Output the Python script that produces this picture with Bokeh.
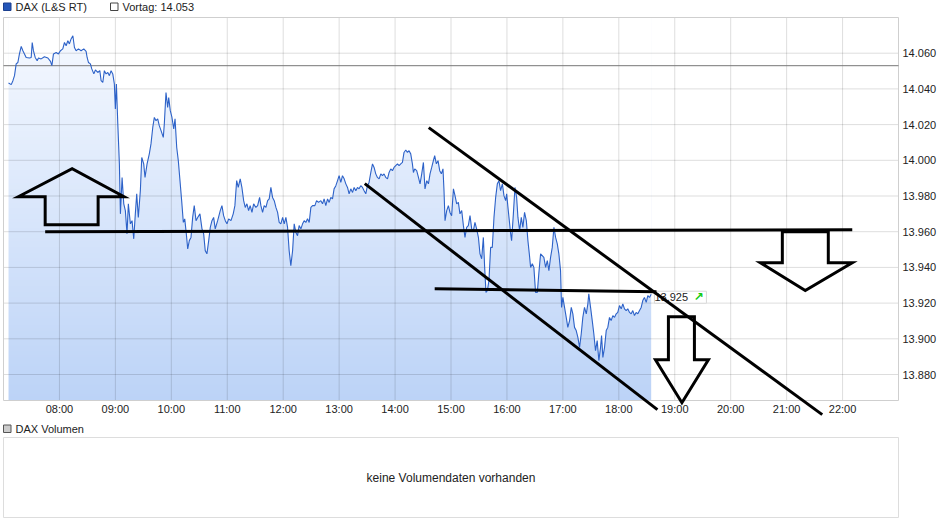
import numpy as np
from bokeh.plotting import figure
from bokeh.models import Range1d, Label, Arrow, PolyAnnotation, FixedTicker
from bokeh.core.properties import value
from bokeh.embed import file_html
from bokeh.resources import INLINE

# ---------------- data ----------------
open_minute = 420  # 07:00, minutes after midnight
minutes_after_open = [
    5.4, 8.3, 10.1, 11.8, 13.6, 15.4, 17.1, 19.0, 20.8, 22.5,
    24.3, 27.9, 29.7, 30.8, 32.1, 34.0, 36.1, 37.5, 40.4, 43.9,
    47.6, 50.4, 51.9, 53.6, 56.5, 58.9, 61.1, 63.6, 65.4, 67.2,
    69.0, 70.7, 72.5, 74.4, 76.1, 77.9, 80.4, 83.2, 86.1, 88.6,
    89.7, 91.1, 93.2, 94.7, 96.9, 98.6, 101.1, 103.3, 104.7, 106.5,
    108.2, 110.0, 111.9, 113.6, 115.4, 117.2, 118.9, 120.0, 121.1, 122.6,
    124.3, 125.4, 127.2, 129.0, 130.7, 132.5, 133.9, 136.1, 137.9, 139.7,
    141.4, 142.9, 144.6, 146.8, 148.3, 150.4, 151.8, 154.0, 156.4, 158.2,
    160.1, 161.8, 163.6, 165.4, 167.1, 169.0, 171.4, 172.5, 174.3, 176.1,
    177.2, 178.9, 180.7, 182.6, 184.0, 185.8, 187.5, 189.3, 191.1, 192.9,
    194.4, 196.1, 197.6, 199.3, 201.1, 202.9, 204.6, 206.5, 208.3, 210.7,
    212.9, 214.7, 216.4, 218.2, 220.1, 221.8, 223.6, 225.4, 227.1, 229.7,
    232.5, 234.3, 236.1, 237.9, 239.7, 241.5, 244.0, 246.4, 248.2, 250.1,
    251.8, 253.9, 255.7, 257.6, 259.3, 261.1, 262.9, 264.6, 266.5, 268.3,
    270.7, 272.6, 274.7, 276.1, 277.9, 279.6, 281.5, 283.3, 285.0, 286.8,
    288.6, 290.4, 292.2, 294.0, 295.7, 297.5, 299.4, 301.1, 302.9, 304.7,
    306.4, 308.2, 310.1, 311.8, 313.6, 315.4, 317.1, 319.0, 320.8, 322.5,
    324.3, 326.1, 327.9, 329.7, 331.5, 334.0, 335.8, 337.9, 340.4, 342.2,
    343.9, 345.7, 347.6, 349.3, 351.1, 352.9, 354.6, 356.5, 358.3, 360.0,
    361.8, 363.6, 365.4, 367.2, 369.0, 370.7, 372.5, 374.4, 376.1, 377.9,
    379.7, 381.4, 383.2, 385.1, 386.8, 388.6, 390.4, 392.1, 394.0, 395.8,
    397.5, 399.3, 401.1, 402.9, 404.7, 406.5, 408.2, 410.0, 411.9, 413.6,
    415.4, 417.2, 418.9, 420.7, 422.6, 424.3,
    426.1, 427.9, 429.6, 431.5, 433.3, 435.0, 436.8, 438.6, 439.7, 441.1,
    443.2, 445.1, 446.8, 448.6, 450.4, 452.1, 454.0, 455.8, 457.5, 459.3,
    461.1, 462.5, 464.3, 466.1, 467.9, 469.7, 471.4, 472.5, 473.6, 475.4,
    477.2, 478.9, 480.7, 482.6, 484.3, 486.1, 487.9, 489.6, 491.5, 493.3,
    495.0, 496.8, 498.6, 500.4, 502.2, 504.0, 505.7, 507.5, 509.4, 511.1,
    512.9, 514.7, 516.1, 517.5, 519.0, 520.7, 522.5, 524.3, 526.1, 527.9,
    529.7, 531.4, 533.2, 535.1, 536.8, 538.6, 539.7, 541.1, 542.9, 544.0,
    545.0, 546.9, 548.6, 550.4, 551.8, 553.6, 555.4, 557.1, 558.9, 560.8,
    562.5, 564.0, 565.4, 567.2, 568.9, 570.7, 572.6, 574.3,
    576.1, 579.6, 581.5, 583.3, 585.0, 586.8, 588.6, 590.4, 592.2, 594.0,
    595.7, 597.5, 598.6, 600.0, 601.8, 603.6, 605.3, 607.2, 609.0, 610.7,
    612.5, 614.3, 616.1, 617.9, 619.7, 621.4, 623.2, 625.1, 626.8, 627.8,
    629.7, 631.5, 633.2, 635.0, 636.8, 638.6, 640.4, 641.5, 642.9, 644.7,
    646.5, 648.2, 650.0, 651.8, 653.6, 655.4, 657.2, 658.9, 660.7, 662.6,
    664.3, 666.1, 667.9, 669.6, 671.5, 673.3, 675.0, 676.8, 678.6, 680.4,
    682.2, 684.0, 685.7, 687.5, 689.4, 691.1, 692.9, 694.7,
]
prices = [
    14043.3, 14042.4, 14044.6, 14047.4, 14054.0, 14054.8, 14059.6, 14063.8, 14061.4, 14059.6,
    14057.6, 14057.3, 14057.6, 14066.0, 14061.4, 14057.6, 14055.8, 14057.3, 14056.8, 14058.0,
    14057.3, 14055.4, 14053.0, 14059.6, 14060.4, 14059.6, 14061.4, 14062.4, 14066.0, 14064.2,
    14067.0, 14065.2, 14068.0, 14069.8, 14063.2, 14061.4, 14062.4, 14061.4, 14062.4, 14061.0,
    14057.6, 14054.8, 14054.0, 14051.2, 14048.4, 14050.6, 14049.2, 14050.2, 14044.6, 14043.6,
    14050.2, 14048.4, 14049.2, 14047.4, 14050.2, 14048.4, 14042.8, 14028.8, 14042.8, 14020.4,
    13998.0, 13970.0, 13990.4, 13975.6, 13971.8, 13958.8, 13975.6, 13964.4, 13966.2, 13956.0,
    13970.0, 13981.2, 13968.0, 13983.0, 14001.6, 13998.0, 13990.4, 13998.0, 14003.6, 14009.2,
    14018.4, 14024.0, 14022.2, 14023.2, 14019.4, 14016.6, 14012.8, 14020.4, 14038.0, 14029.6,
    14035.2, 14027.8, 14024.0, 14017.6, 14023.2, 14007.2, 13999.8, 13988.6, 13977.4, 13965.2,
    13967.2, 13958.8, 13950.4, 13955.0, 13956.8, 13968.0, 13974.6, 13966.2, 13968.0, 13970.0,
    13961.6, 13958.8, 13949.4, 13947.6, 13955.0, 13962.4, 13966.2, 13968.0, 13961.6, 13966.2,
    13971.8, 13974.6, 13969.0, 13966.2, 13964.4, 13967.2, 13966.2, 13970.0, 13974.6, 13988.6,
    13984.8, 13989.6, 13984.8, 13977.4, 13973.6, 13975.6, 13971.8, 13974.6, 13970.8, 13975.6,
    13973.6, 13974.6, 13979.2, 13974.6, 13970.8, 13974.6, 13973.6, 13977.4, 13978.4, 13984.8,
    13979.2, 13977.4, 13973.6, 13970.8, 13965.2, 13964.4, 13968.0, 13964.4, 13968.0, 13962.4,
    13949.4, 13941.0, 13949.4, 13964.4, 13959.6, 13957.8, 13963.4, 13961.6, 13964.4, 13966.2,
    13965.2, 13967.2, 13965.2, 13973.6, 13974.6, 13974.6, 13977.4, 13976.4, 13977.4, 13975.6,
    13978.4, 13974.6, 13978.4, 13976.4, 13979.2, 13978.4, 13984.0, 13985.8, 13988.6, 13991.4,
    13987.6, 13991.4, 13989.6, 13986.8, 13984.8, 13981.2, 13984.0, 13982.0, 13984.8, 13983.0,
    13984.8, 13984.0, 13985.8, 13984.8, 13983.0, 13981.2, 13985.8, 13987.6, 13993.2, 13998.0,
    13996.0, 13992.4, 13990.4, 13989.6, 13992.4, 13991.4, 13992.4, 13990.4, 13989.6, 13993.2,
    13995.2, 13994.2, 13996.0, 13997.0, 13998.0, 13997.0,
    13998.0, 13998.8, 14004.4, 14005.8, 14004.4, 14005.4, 14003.6, 13998.0, 13993.2, 13995.2,
    13994.2, 13990.4, 13986.8, 13992.4, 13998.8, 13984.0, 13988.6, 13986.8, 13992.4, 13996.0,
    13999.8, 14002.6, 13998.0, 13999.8, 13994.2, 13992.4, 13995.2, 13983.0, 13966.2, 13971.8,
    13974.6, 13970.8, 13969.0, 13984.0, 13980.2, 13975.6, 13976.4, 13970.0, 13971.8, 13963.4,
    13956.8, 13962.4, 13963.4, 13969.0, 13961.6, 13960.6, 13965.2, 13961.6, 13956.8, 13947.6,
    13944.8, 13956.8, 13940.0, 13926.0, 13927.0, 13932.6, 13951.2, 13951.2, 13968.0, 13979.2,
    13986.8, 13988.6, 13983.0, 13986.8, 13980.2, 13977.4, 13981.2, 13973.6, 13964.4, 13958.8,
    13955.0, 13970.0, 13984.8, 13979.2, 13968.0, 13960.6, 13968.0, 13962.4, 13970.8, 13966.2,
    13955.0, 13947.6, 13940.0, 13942.0, 13940.0, 13926.0, 13926.0, 13937.2,
    13947.6, 13945.6, 13940.0, 13943.8, 13938.2, 13945.6, 13951.2, 13962.4, 13956.8, 13953.2,
    13947.6, 13938.2, 13917.6, 13923.2, 13917.6, 13912.0, 13906.4, 13910.2, 13917.6, 13914.0,
    13906.4, 13904.6, 13900.8, 13895.2, 13902.8, 13912.0, 13917.6, 13914.0, 13919.6, 13925.2,
    13917.6, 13910.2, 13902.8, 13893.4, 13899.0, 13887.8, 13895.2, 13901.8, 13889.6, 13895.2,
    13904.6, 13906.4, 13912.0, 13910.2, 13913.0, 13912.0, 13914.0, 13914.8, 13918.6, 13916.8,
    13919.6, 13916.8, 13915.8, 13916.8, 13914.8, 13914.0, 13915.8, 13913.0, 13914.8, 13914.0,
    13915.8, 13917.6, 13921.4, 13923.2, 13920.4, 13924.2, 13923.2, 13925.0,
]
vortag = 14053
last_price_label = "13.925"

x_ticks = [480, 540, 600, 660, 720, 780, 840, 900, 960, 1020, 1080, 1140, 1200, 1260, 1320]
x_tick_labels = ["08:00", "09:00", "10:00", "11:00", "12:00", "13:00", "14:00", "15:00",
                 "16:00", "17:00", "18:00", "19:00", "20:00", "21:00", "22:00"]
y_ticks = [13880, 13900, 13920, 13940, 13960, 13980, 14000, 14020, 14040, 14060]
y_tick_labels = ["13.880", "13.900", "13.920", "13.940", "13.960", "13.980",
                 "14.000", "14.020", "14.040", "14.060"]

# hand-drawn chart annotations (time in minutes after midnight, price in points)
up_arrow_x = [435.8, 493.6, 549.3, 521.5, 521.5, 464.7, 464.7]
up_arrow_y = [13979.6, 13995.3, 13979.6, 13979.6, 13963.9, 13963.9, 13979.6]
down_arrow_right_x = [1255.4, 1304.7, 1304.7, 1330.4, 1280.0, 1231.8, 1255.4]
down_arrow_right_y = [13960.0, 13960.0, 13942.6, 13942.6, 13927.0, 13942.6, 13942.6]
down_arrow_mid_x = [1133.2, 1161.1, 1161.1, 1176.1, 1147.7, 1119.3, 1133.2]
down_arrow_mid_y = [13912.4, 13912.4, 13888.3, 13888.3, 13864.2, 13888.3, 13888.3]
drawn_lines = [  # (x_start, y_start, x_end, y_end)
    (464.7, 13960.0, 1330.4, 13961.1),   # support line
    (807.5, 13986.9, 1121.4, 13860.3),   # lower channel line
    (876.1, 14018.3, 1298.2, 13857.5),   # upper channel line
    (882.5, 13928.1, 1120.4, 13926.4),   # short horizontal line
]

# ---------------- layout (page pixels -> data units) ----------------
X_START, X_END = 420, 1380            # chart time range 07:00 .. 23:00
Y_TOP = 14080                         # chart top
PX_L, PX_R = 3, 898                   # chart left / right in page pixels
PY_TOP, PY_BOT = 17, 400              # chart top / bottom in page pixels
PX_PER_MIN = (PX_R - PX_L) / (X_END - X_START)
PX_PER_PT = 1.785
FRAME_W, FRAME_H = 899, 520
FONT = "Liberation Sans"


def gx(px):
    return X_START + (px - PX_L) / PX_PER_MIN


def gy(py):
    return Y_TOP - (py - PY_TOP) / PX_PER_PT


Y_BOT = gy(PY_BOT)

t = np.array(minutes_after_open[:len(prices)]) + open_minute
y = np.array(prices[:len(t)])

p = figure(frame_width=FRAME_W, frame_height=FRAME_H,
           x_range=Range1d(gx(0), gx(FRAME_W)), y_range=Range1d(gy(FRAME_H), gy(0)),
           toolbar_location=None, output_backend="svg", y_axis_location="right",
           x_axis_location=None,
           min_border_left=0, min_border_top=0, min_border_bottom=0, min_border_right=0,
           background_fill_color="white", border_fill_color="white")
p.outline_line_color = None

# gradient fill below the price line
rows = 256
frac = np.linspace(0, 1, rows)
c_bottom = np.array([188, 211, 247])
c_top = np.array([247, 250, 255])
cols = c_bottom + (c_top - c_bottom) * frac[:, None]
img = np.empty((rows, 1), dtype=np.uint32)
view = img.view(dtype=np.uint8).reshape((rows, 1, 4))
view[:, 0, 0:3] = np.round(cols).astype(np.uint8)
view[:, 0, 3] = 255
r_img = p.image_rgba(image=[img], x=t[0], y=Y_BOT, dw=t[-1] - t[0], dh=Y_TOP - Y_BOT)
r_img.level = "image"
r_mask = p.varea(x=t, y1=y, y2=Y_TOP, fill_color="white")
r_mask.level = "image"

# grid lines and chart frame
grid_col, grid_alpha = "black", 0.135
r_vg = p.segment(x0=x_ticks, x1=x_ticks, y0=Y_BOT, y1=Y_TOP, line_color=grid_col,
                 line_alpha=grid_alpha, line_width=1)
r_vg.level = "underlay"
r_hg = p.segment(x0=X_START, x1=X_END, y0=y_ticks, y1=y_ticks, line_color=grid_col,
                 line_alpha=grid_alpha, line_width=1)
r_hg.level = "underlay"
p.grid.visible = False
r_box = p.quad(left=X_START, right=X_END, bottom=Y_BOT, top=Y_TOP, fill_color=None,
               line_color="#cfcfcf", line_width=1)
r_box.level = "underlay"

p.segment(x0=X_START, x1=X_END, y0=vortag, y1=vortag, line_color="#777777", line_width=1)
p.line(t, y, line_color="#2d62c8", line_width=1.1)

# right axis (real axis) and time labels under the chart
p.yaxis.ticker = FixedTicker(ticks=y_ticks)
p.yaxis.major_label_overrides = {k: v for k, v in zip(y_ticks, y_tick_labels)}
ax = p.yaxis[0]
ax.major_tick_in = 0
ax.major_tick_out = 0
ax.minor_tick_in = 0
ax.minor_tick_out = 0
ax.major_tick_line_color = None
ax.minor_tick_line_color = None
ax.axis_line_color = None
ax.major_label_text_font = FONT
ax.major_label_text_font_size = "11px"
ax.major_label_text_color = "#222222"
ax.major_label_standoff = 3

p.text(x=x_ticks, y=[gy(408.5)] * len(x_ticks), text=x_tick_labels,
       text_font=value(FONT), text_font_size=value("11px"), text_color="#222222",
       text_align="center", text_baseline="middle")

# last price tag
tag_y = y[-1] - 1.7
p.add_layout(Label(x=t[-1] + 3.5, y=tag_y, text=" " + last_price_label + "     ",
                   text_font=FONT, text_font_size="11px", text_color="#222222",
                   text_baseline="middle", background_fill_color="white",
                   border_line_color="#d8d8d8", border_line_width=1))
p.add_layout(Label(x=t[-1] + 3.5, y=tag_y, x_offset=39, text="\u2197",
                   text_font="DejaVu Sans", text_font_size="12px", text_font_style="bold",
                   text_color="#11cc11", text_baseline="middle"))

# drawn annotations
for xs, ys in ((up_arrow_x, up_arrow_y), (down_arrow_right_x, down_arrow_right_y),
               (down_arrow_mid_x, down_arrow_mid_y)):
    p.add_layout(PolyAnnotation(xs=xs, ys=ys, fill_alpha=0, line_color="black",
                                line_alpha=1.0, line_width=3, line_join="miter"))
for xs_, ys_, xe_, ye_ in drawn_lines:
    p.add_layout(Arrow(end=None, x_start=xs_, y_start=ys_, x_end=xe_, y_end=ye_,
                       line_color="black", line_width=3))

# legend row above the chart
p.quad(left=gx(3), right=gx(10.5), top=gy(2.5), bottom=gy(10),
       fill_color="#2456b8", line_color="#1b3f8f", line_width=1)
p.add_layout(Label(x=gx(15), y=gy(6.5), text="DAX (L&S RT)", text_font=FONT, text_font_size="11px",
                   text_color="#222222", text_baseline="middle"))
p.quad(left=gx(110), right=gx(117.5), top=gy(2.5), bottom=gy(10),
       fill_color="white", line_color="#444444", line_width=1)
p.add_layout(Label(x=gx(122), y=gy(6.5), text="Vortag: 14.053", text_font=FONT,
                   text_font_size="11px", text_color="#222222", text_baseline="middle"))

# volume panel
p.quad(left=gx(3), right=gx(898), top=gy(437), bottom=gy(517), fill_color="white",
       line_color="#dddddd", line_width=1)
p.quad(left=gx(3), right=gx(10.5), top=gy(424.5), bottom=gy(432),
       fill_color="#cccccc", line_color="#555555", line_width=1)
p.add_layout(Label(x=gx(15), y=gy(428.5), text="DAX Volumen", text_font=FONT,
                   text_font_size="11px", text_color="#222222", text_baseline="middle"))
p.add_layout(Label(x=(X_START + X_END) / 2, y=gy(477), text="keine Volumendaten vorhanden",
                   text_font=FONT, text_font_size="12px", text_color="#222222",
                   text_align="center", text_baseline="middle"))

open("out.html", "w").write(file_html(p, INLINE))
